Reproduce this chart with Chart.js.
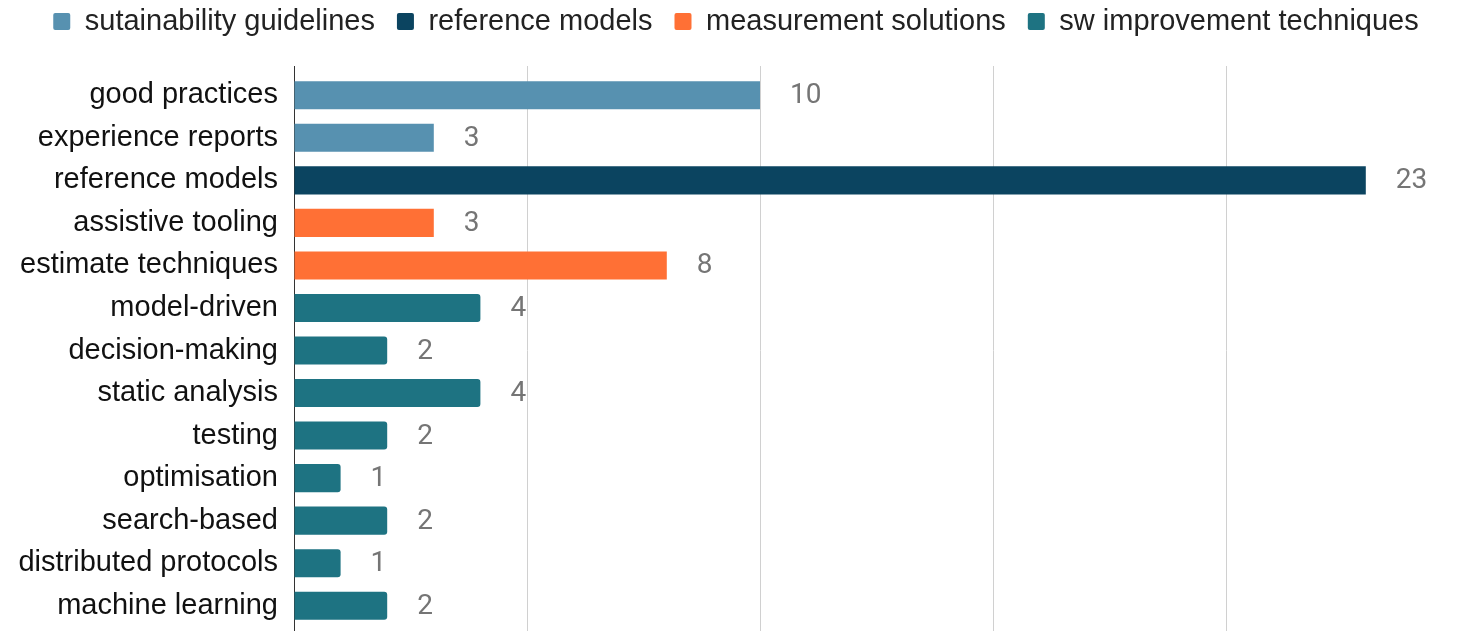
<!DOCTYPE html>
<html>
<head>
<meta charset="utf-8">
<title>Sustainability studies by topic</title>
<script src="https://cdn.jsdelivr.net/npm/chart.js@4.4.1/dist/chart.umd.min.js"></script>
<style>
  html, body { margin: 0; padding: 0; background: #fff; overflow: hidden; }
  #wrap { position: relative; width: 1457px; height: 631px; overflow: hidden; }
  #wrap canvas { position: absolute; left: 0; top: 0; }
</style>
</head>
<body>
<div id="wrap"><canvas id="chart" width="1472" height="680"></canvas></div>
<script>
// topics, top to bottom
var categories = [
  "good practices", "experience reports", "reference models", "assistive tooling",
  "estimate techniques", "model-driven", "decision-making", "static analysis",
  "testing", "optimisation", "search-based", "distributed protocols", "machine learning"
];

var seriesNames = [
  "sutainability guidelines", "reference models", "measurement solutions", "sw improvement techniques"
];

// one series per group, null where the topic belongs to another group
var guidelines   = [10, 3, null, null, null, null, null, null, null, null, null, null, null];
var refModels    = [null, null, 23, null, null, null, null, null, null, null, null, null, null];
var measurement  = [null, null, null, 3, 8, null, null, null, null, null, null, null, null];
var swTechniques = [null, null, null, null, null, 4, 2, 4, 2, 1, 2, 1, 2];

var colors = ["#5791b0", "#0b4460", "#ff7035", "#1e7382"];
var xTicks = [0, 5, 10, 15, 20, 25];

// number next to the end of each bar
var valueLabels = {
  id: "valueLabels",
  afterDatasetsDraw: function (chart) {
    var ctx = chart.ctx;
    ctx.save();
    ctx.font = "28px Roboto";
    ctx.fillStyle = "#757575";
    ctx.textAlign = "left";
    ctx.textBaseline = "middle";
    chart.data.datasets.forEach(function (ds, i) {
      chart.getDatasetMeta(i).data.forEach(function (bar, j) {
        var v = ds.data[j];
        if (v == null) return;
        ctx.fillText(String(v), bar.x + 30, bar.y + 1);
      });
    });
    ctx.restore();
  }
};

// leave some room between legend and plot
var legendGap = {
  id: "legendGap",
  beforeInit: function (chart) {
    var fit = chart.legend.fit;
    chart.legend.fit = function () {
      fit.call(this);
      this.height += 20;
    };
  }
};

var gridColor = function (c) {
  return c.tick && c.tick.value === 0 ? "#333" : "#d0d0d0";
};

var ctx = document.getElementById("chart").getContext("2d");
new Chart(ctx, {
  type: "bar",
  data: {
    labels: categories,
    datasets: [
      { label: seriesNames[0], data: guidelines, backgroundColor: colors[0] },
      { label: seriesNames[1], data: refModels, backgroundColor: colors[1] },
      { label: seriesNames[2], data: measurement, backgroundColor: colors[2] },
      { label: seriesNames[3], data: swTechniques, backgroundColor: colors[3], borderRadius: 3 }
    ]
  },
  plugins: [valueLabels, legendGap],
  options: {
    indexAxis: "y",
    responsive: false,
    animation: false,
    barPercentage: 0.66,
    categoryPercentage: 1,
    layout: { padding: { top: -15, right: 13, bottom: 45, left: 13 } },
    plugins: {
      tooltip: { enabled: false },
      legend: {
        position: "top",
        labels: {
          boxWidth: 17,
          boxHeight: 17,
          padding: 22,
          useBorderRadius: true,
          borderRadius: 2,
          color: "#222",
          font: { family: "'Liberation Sans', Arial, sans-serif", size: 29 }
        }
      }
    },
    scales: {
      x: {
        stacked: true,
        min: xTicks[0],
        max: xTicks[xTicks.length - 1],
        afterBuildTicks: function (s) { s.ticks = xTicks.map(function (v) { return { value: v }; }); },
        ticks: { display: false },
        grid: { color: gridColor, lineWidth: 1, tickLength: 8 },
        border: { display: false }
      },
      x2: {
        axis: "x",
        position: "top",
        min: xTicks[0],
        max: xTicks[xTicks.length - 1],
        afterBuildTicks: function (s) { s.ticks = xTicks.map(function (v) { return { value: v }; }); },
        ticks: { display: false },
        grid: { color: gridColor, drawOnChartArea: false, tickLength: 8 },
        border: { display: false }
      },
      y: {
        stacked: true,
        afterFit: function (s) { s.width = 281; },
        ticks: {
          autoSkip: false,
          padding: 16,
          color: "#111",
          font: { family: "'Liberation Sans', Arial, sans-serif", size: 29 }
        },
        grid: { display: false, drawTicks: false },
        border: { display: true, color: "#333", width: 1 }
      }
    }
  }
});
</script>
</body>
</html>
